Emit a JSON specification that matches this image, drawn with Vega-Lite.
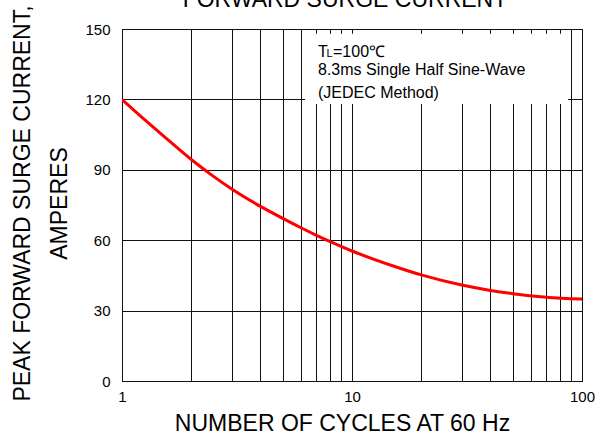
{
  "$schema": "https://vega.github.io/schema/vega-lite/v6.json",
  "width": 460,
  "height": 352,
  "autosize": {"type": "none"},
  "padding": {"left": 122, "top": 29, "right": 13, "bottom": 56},
  "background": "white",
  "config": {"view": {"stroke": "#000", "strokeWidth": 1}, "font": "Liberation Sans"},
  "datasets": {
    "curve": [
      {"cycles": 1, "amps": 120},
      {"cycles": 1.25, "amps": 111.5},
      {"cycles": 1.5, "amps": 104.8},
      {"cycles": 2, "amps": 94.4},
      {"cycles": 2.5, "amps": 87.2},
      {"cycles": 3, "amps": 81.8},
      {"cycles": 4, "amps": 74.4},
      {"cycles": 5, "amps": 69.3},
      {"cycles": 6, "amps": 65.3},
      {"cycles": 7, "amps": 62.1},
      {"cycles": 8, "amps": 59.5},
      {"cycles": 10, "amps": 55.4},
      {"cycles": 15, "amps": 49.1},
      {"cycles": 20, "amps": 45.2},
      {"cycles": 30, "amps": 40.9},
      {"cycles": 40, "amps": 38.6},
      {"cycles": 50, "amps": 37.2},
      {"cycles": 70, "amps": 35.7},
      {"cycles": 100, "amps": 34.9}
    ]
  },
  "layer": [
    {
      "data": {"values": [{"x1": 6.25, "x2": 87, "y1": 118, "y2": 148}]},
      "mark": {"type": "rect", "fill": "white", "stroke": null},
      "encoding": {
        "x": {"field": "x1", "type": "quantitative", "scale": {"type": "log", "domain": [1, 100], "nice": false}},
        "x2": {"field": "x2"},
        "y": {"field": "y1", "type": "quantitative", "scale": {"domain": [0, 150], "nice": false}},
        "y2": {"field": "y2"}
      }
    },
    {
      "data": {"name": "curve"},
      "mark": {"type": "line", "color": "#ff0000", "strokeWidth": 3, "interpolate": "monotone", "clip": true},
      "encoding": {
        "x": {"field": "cycles", "type": "quantitative",
          "scale": {"type": "log", "domain": [1, 100], "nice": false},
          "axis": {
            "title": "NUMBER OF CYCLES AT 60 Hz",
            "values": [1, 2, 3, 4, 5, 6, 7, 8, 9, 10, 20, 30, 40, 50, 60, 70, 80, 90, 100],
            "labelExpr": "datum.value == 1 || datum.value == 10 || datum.value == 100 ? datum.label : ''",
            "format": "d",
            "labelOverlap": false,
            "labelFlush": false,
            "grid": true, "gridColor": "#111", "gridWidth": 1, "gridOpacity": 1,
            "ticks": false, "domain": false,
            "labelFontSize": 15, "labelColor": "#000", "labelPadding": 8,
            "titleFontSize": 23, "titleFontWeight": "normal", "titleColor": "#000",
            "titleX": 220, "titleY": 49, "titleAlign": "center", "titleBaseline": "alphabetic"
          }},
        "y": {"field": "amps", "type": "quantitative",
          "scale": {"domain": [0, 150], "nice": false},
          "axis": {
            "title": ["PEAK FORWARD SURGE CURRENT,", "AMPERES"],
            "values": [0, 30, 60, 90, 120, 150],
            "grid": true, "gridColor": "#111", "gridWidth": 1, "gridOpacity": 1,
            "ticks": false, "domain": false,
            "labelFontSize": 15, "labelColor": "#000", "labelPadding": 12,
            "titleFontSize": 23, "titleFontWeight": "normal", "titleColor": "#000",
            "titleX": -93, "titleY": 174, "titleAngle": -90, "titleAlign": "center", "titleBaseline": "alphabetic", "titleLineHeight": 37
          }}
      }
    },
    {
      "data": {"values": [{"x": 9.32, "y": 159.4, "t": "FORWARD SURGE CURRENT"}]},
      "mark": {"type": "text", "align": "center", "baseline": "alphabetic", "fontSize": 23, "color": "#000", "clip": false},
      "encoding": {"x": {"field": "x", "type": "quantitative"}, "y": {"field": "y", "type": "quantitative"}, "text": {"field": "t"}}
    },
    {
      "data": {"values": [{"x": 7.115, "y": 138.2, "t": "T"}]},
      "mark": {"type": "text", "align": "left", "baseline": "alphabetic", "fontSize": 16, "color": "#000"},
      "encoding": {"x": {"field": "x", "type": "quantitative"}, "y": {"field": "y", "type": "quantitative"}, "text": {"field": "t"}}
    },
    {
      "data": {"values": [{"x": 7.115, "y": 138.2, "t": "L"}]},
      "mark": {"type": "text", "align": "left", "baseline": "alphabetic", "fontSize": 11, "dx": 8.5, "color": "#000"},
      "encoding": {"x": {"field": "x", "type": "quantitative"}, "y": {"field": "y", "type": "quantitative"}, "text": {"field": "t"}}
    },
    {
      "data": {"values": [{"x": 7.115, "y": 138.2, "t": "=100℃"}]},
      "mark": {"type": "text", "align": "left", "baseline": "alphabetic", "fontSize": 16, "dx": 15, "color": "#000"},
      "encoding": {"x": {"field": "x", "type": "quantitative"}, "y": {"field": "y", "type": "quantitative"}, "text": {"field": "t"}}
    },
    {
      "data": {"values": [{"x": 7.115, "y": 130.5, "t": "8.3ms Single Half Sine-Wave"}, {"x": 7.115, "y": 120.6, "t": "(JEDEC Method)"}]},
      "mark": {"type": "text", "align": "left", "baseline": "alphabetic", "fontSize": 16, "color": "#000"},
      "encoding": {"x": {"field": "x", "type": "quantitative"}, "y": {"field": "y", "type": "quantitative"}, "text": {"field": "t"}}
    }
  ]
}
